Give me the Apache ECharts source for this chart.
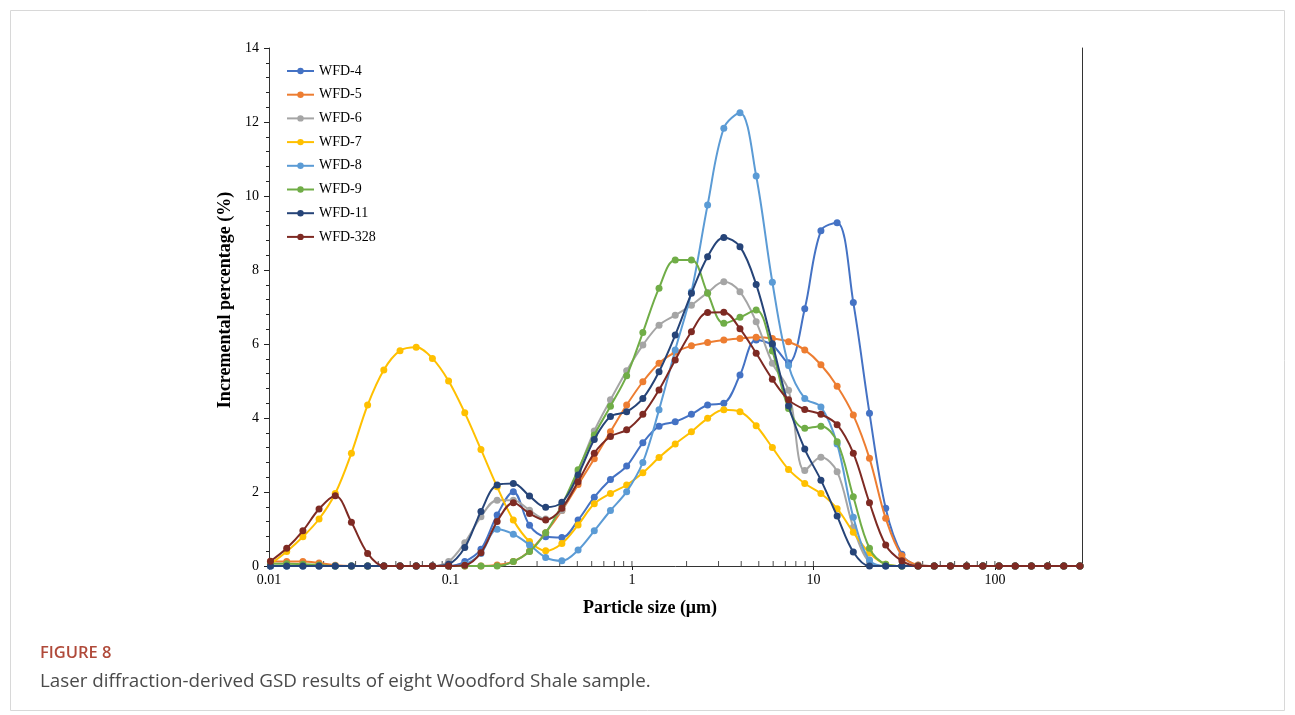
<!DOCTYPE html>
<html>
<head>
<meta charset="utf-8">
<script src="https://cdn.jsdelivr.net/npm/echarts@6/dist/echarts.min.js"></script>
<style>
html,body{margin:0;padding:0;background:#fff;}
#chart{width:1295px;height:715px;}
</style>
</head>
<body>
<div id="chart"></div>
<script>
// Particle size bins (µm)
var sizes = [0.01019,0.01252,0.01537,0.01887,0.02318,0.02846,0.03495,0.04292,0.05272,0.06475,
  0.07952,0.09764,0.1199,0.1472,0.1808,0.2220,0.2726,0.3347,0.4111,0.5049,
  0.6200,0.7614,0.9352,1.1484,1.410,1.732,2.127,2.612,3.208,3.939,
  4.837,5.940,7.295,8.959,11.00,13.51,16.59,20.37,25.02,30.72,
  37.73,46.33,56.89,69.87,85.80,105.4,129.4,158.9,195.1,239.6,294.2];

var names = ['WFD-4','WFD-5','WFD-6','WFD-7','WFD-8','WFD-9','WFD-11','WFD-328'];
var colors = ['#4472C4','#ED7D31','#A5A5A5','#FFC000','#5B9BD5','#70AD47','#264478','#7E2A23'];

var wfd4 = [0,0,0,0,0,0,0,0,0,0, 0,0,0.12,0.45,1.38,2.01,1.10,0.79,0.77,1.24,
  1.86,2.34,2.70,3.33,3.78,3.90,4.10,4.35,4.40,5.16, 6.11,5.97,5.49,6.95,9.06,9.28,7.12,4.13,1.56,0.32,
  0.02,0,0,0,0,0,0,0,0,0,0];
var wfd5 = [0.12,0.12,0.12,0.08,0.02,0,0,0,0,0, 0,0,0,0,0.03,0.12,0.40,0.90,1.50,2.20,
  2.90,3.63,4.35,4.98,5.48,5.78,5.95,6.04,6.11,6.15, 6.18,6.15,6.06,5.84,5.44,4.86,4.08,2.91,1.29,0.28,
  0.03,0,0,0,0,0,0,0,0,0,0];
var wfd6 = [0,0,0,0,0,0,0,0,0,0, 0,0.12,0.63,1.33,1.78,1.78,1.51,1.27,1.50,2.55,
  3.65,4.49,5.28,5.97,6.51,6.78,7.05,7.39,7.68,7.41, 6.60,5.48,4.75,2.58,2.94,2.55,1.05,0.10,0,0,
  0,0,0,0,0,0,0,0,0,0,0];
var wfd7 = [0.05,0.39,0.79,1.27,1.96,3.05,4.35,5.30,5.82,5.91, 5.61,5.00,4.14,3.15,2.14,1.24,0.66,0.41,0.61,1.11,
  1.68,1.96,2.19,2.52,2.93,3.30,3.63,3.99,4.22,4.17, 3.79,3.20,2.61,2.23,1.96,1.55,0.91,0.35,0.05,0,
  0,0,0,0,0,0,0,0,0,0,0];
var wfd8 = [0,0,0,0,0,0,0,0,0,0, 0,0,0.05,0.34,0.99,0.86,0.57,0.23,0.14,0.43,
  0.95,1.50,2.01,2.80,4.22,5.84,7.41,9.76,11.83,12.25, 10.54,7.67,5.42,4.53,4.30,3.30,1.32,0.16,0,0,
  0,0,0,0,0,0,0,0,0,0,0];
var wfd9 = [0.06,0.06,0.05,0.03,0,0,0,0,0,0, 0,0,0,0,0,0.12,0.39,0.90,1.65,2.60,
  3.54,4.32,5.14,6.31,7.51,8.27,8.27,7.37,6.56,6.72, 6.92,5.81,4.26,3.72,3.78,3.36,1.87,0.48,0.05,0,
  0,0,0,0,0,0,0,0,0,0,0];
var wfd11 = [0,0,0,0,0,0,0,0,0,0, 0,0.05,0.50,1.47,2.19,2.23,1.89,1.59,1.72,2.46,
  3.42,4.04,4.17,4.53,5.25,6.24,7.37,8.36,8.88,8.63, 7.61,6.01,4.33,3.16,2.32,1.35,0.38,0,0,0,
  0,0,0,0,0,0,0,0,0,0,0];
var wfd328 = [0.13,0.48,0.95,1.54,1.90,1.18,0.34,0,0,0, 0,0,0.02,0.36,1.20,1.71,1.42,1.24,1.56,2.28,
  3.05,3.50,3.68,4.10,4.76,5.57,6.33,6.85,6.86,6.41, 5.75,5.05,4.49,4.23,4.10,3.82,3.05,1.71,0.57,0.14,
  0,0,0,0,0,0,0,0,0,0,0];

var seriesValues = [wfd4,wfd5,wfd6,wfd7,wfd8,wfd9,wfd11,wfd328];

// x-axis tick values
var majorTicks = [0.01,0.1,1,10,100];
var minorTicks = [0.02,0.03,0.04,0.05,0.06,0.07,0.08,0.09,
  0.2,0.3,0.4,0.5,0.6,0.7,0.8,0.9, 2,3,4,5,6,7,8,9, 20,30,40,50,60,70,80,90, 200];

var serif = '"Liberation Serif","Times New Roman",serif';

var series = names.map(function(n,k){
  return {
    name:n, type:'line', smooth:0.35, symbol:'circle', symbolSize:7,
    data: sizes.map(function(s,i){return [s, seriesValues[k][i]];}),
    lineStyle:{width:2,color:colors[k]}, itemStyle:{color:colors[k]},
    z: 3 + k
  };
});
series.push({
  name:'minorTicks', type:'scatter', silent:true, clip:false, z:2,
  symbol:'rect', symbolSize:[1,5], symbolOffset:[0,-2.5],
  itemStyle:{color:'#222'},
  data: minorTicks.concat(majorTicks).map(function(v){return [v,0];})
});

var chart = echarts.init(document.getElementById('chart'), null, {renderer:'canvas'});
chart.setOption({
  animation:false,
  backgroundColor:'#fff',
  grid:{left:269, top:48, width:813, height:518, show:false},
  legend:{
    data:names, orient:'vertical', left:281, top:59, itemWidth:27, itemHeight:8, itemGap:9.7,
    textStyle:{fontFamily:serif, fontSize:14, color:'#000'}
  },
  xAxis:{
    type:'log', logBase:10, min:0.01, max:302,
    name:'Particle size (\u03bcm)', nameLocation:'middle', nameGap:33,
    nameTextStyle:{fontFamily:serif, fontSize:18, fontWeight:'bold', color:'#000', padding:[0,51,0,0]},
    axisLine:{lineStyle:{color:'#333', width:1}},
    axisTick:{show:true, length:4, lineStyle:{color:'#222'}},
    axisLabel:{fontFamily:serif, fontSize:14, color:'#000', margin:7, showMaxLabel:false,
      formatter:function(v){ return String(+v.toPrecision(3)); }},
    splitLine:{show:false}
  },
  yAxis:[{
    type:'value', min:0, max:14, interval:2,
    name:'Incremental percentage (%)', nameLocation:'middle', nameGap:33,
    nameTextStyle:{fontFamily:serif, fontSize:18, fontWeight:'bold', color:'#000', padding:[0,0,0,14]},
    axisLine:{show:true, lineStyle:{color:'#333', width:1}},
    axisTick:{show:true, length:5, lineStyle:{color:'#222'}},
    minorTick:{show:true, splitNumber:5, length:3, lineStyle:{color:'#222'}},
    axisLabel:{fontFamily:serif, fontSize:14, color:'#000', margin:10},
    splitLine:{show:false}
  },{
    type:'value', min:0, max:14, interval:2, position:'right',
    axisLine:{show:true, lineStyle:{color:'#333', width:1}},
    axisTick:{show:false}, axisLabel:{show:false}, splitLine:{show:false}
  }],
  series:series,
  graphic:[
    {type:'rect', shape:{x:10.5,y:10.5,width:1274,height:700,r:0}, style:{fill:'none', stroke:'#d8d8d8', lineWidth:1}, silent:true},
    {type:'text', left:40, top:645, style:{text:'FIGURE 8', fill:'#b04a3a', font:'600 16.5px "Open Sans", sans-serif'}},
    {type:'text', left:40, top:672, style:{text:'Laser diffraction-derived GSD results of eight Woodford Shale sample.', fill:'#4a4a4a', font:'18.8px "Open Sans", sans-serif'}}
  ]
});
</script>
</body>
</html>
